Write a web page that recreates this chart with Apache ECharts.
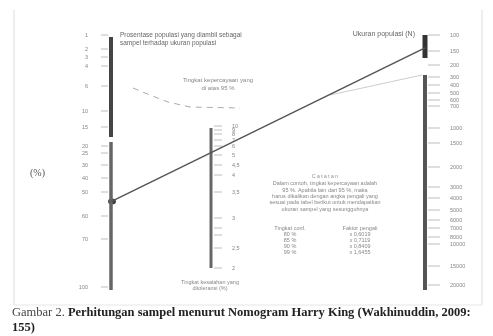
<!DOCTYPE html>
<html>
<head>
<meta charset="utf-8">
<script src="https://cdn.jsdelivr.net/npm/echarts@6/dist/echarts.min.js"></script>
<style>
  html, body {margin: 0; padding: 0; background: #fff;}
  #main {width: 493px; height: 336px;}
</style>
</head>
<body>
<div id="main"></div>
<script>
// left scale: persentase populasi yang diambil sebagai sampel
const pctLabels = ['1', '2', '3', '4', '6', '10', '15', '20', '25', '30', '40', '50', '60', '70', '100'];
const pctPos = [35, 49, 57, 66, 86, 111, 127, 146, 153, 165, 178, 192, 216, 239, 287];

// middle scale: tingkat kesalahan (%)
const errLabels = ['10', '9', '8', '7', '6', '5', '4,5', '4', '3,5', '3', '', '', '2,5', '2'];
const errPos = [126, 130, 134, 140, 146, 155, 165, 175, 192, 218, 228, 235, 248, 268];

// right scale: ukuran populasi
const popLabels = ['100', '150', '200', '300', '400', '500', '600', '700', '1000', '1500',
  '2000', '3000', '4000', '5000', '6000', '7000', '8000', '10000', '15000', '20000'];
const popPos = [35, 51, 65, 77, 85, 93, 100, 106, 128, 143, 167, 187, 198, 210, 220, 228, 237, 244, 266, 285];

// example reading drawn on the nomogram
const readPopulation = 140;
const readPercent = 54;

// confidence table
const confLevels = ['80 %', '85 %', '90 %', '99 %'];
const confFactors = ['x 0,6019', 'x 0,7119', 'x 0,8409', 'x 1,6455'];

// layout
const xLeft = 111, xMid = 211, xRight = 425;

function interp(labels, pos, v) {
  const vals = labels.map(Number);
  for (let i = 0; i < vals.length - 1; i++) {
    if (v >= vals[i] && v <= vals[i + 1]) {
      return pos[i] + (v - vals[i]) / (vals[i + 1] - vals[i]) * (pos[i + 1] - pos[i]);
    }
  }
  return pos[0];
}

function bar(x, y0, y1, width, color) {
  return {
    type: 'line', data: [[x, y0], [x, y1]], symbol: 'none', silent: true,
    lineStyle: {width: width, color: color, cap: 'butt'}
  };
}

function ticks(x, pos, labels, side, len, dist) {
  return {
    type: 'scatter', symbol: 'rect', silent: true,
    symbolSize: [len, 0.8],
    symbolOffset: [side === 'left' ? -len / 2 - 3 : len / 2 + 3, 0],
    itemStyle: {color: '#999'},
    data: pos.map((p, i) => ({value: [x, p], name: labels[i]})),
    label: {
      show: true, position: side, distance: dist,
      formatter: p => p.name,
      fontSize: 5.5, color: '#666', fontFamily: 'Liberation Sans'
    }
  };
}

const yPop = interp(popLabels, popPos, readPopulation);
const yPct = interp(pctLabels, pctPos, readPercent);

const txt = (x, y, s, opt) => ({
  type: 'text', x: x, y: y, silent: true,
  style: Object.assign({text: s, fill: '#888', fontSize: 5.5, fontFamily: 'Liberation Sans', textVerticalAlign: 'middle'}, opt || {})
});
const ln = (x1, y1, x2, y2, opt) => ({
  type: 'line', silent: true, shape: {x1, y1, x2, y2},
  style: Object.assign({stroke: '#ddd', lineWidth: 1}, opt || {})
});

const graphics = [
  ln(14, 10, 14, 305), ln(482, 10, 482, 305), ln(14, 305, 482, 305, {stroke: '#e6e6e6'}),
  txt(30, 173, '(%)', {fill: '#555', fontSize: 10, fontFamily: 'Liberation Serif'}),
  txt(120, 35, 'Prosentase populasi yang diambil sebagai', {fill: '#666', fontSize: 6.5}),
  txt(120, 43, 'sampel terhadap ukuran populasi', {fill: '#666', fontSize: 6.5}),
  txt(218, 80, 'Tingkat kepercayaan yang', {textAlign: 'center', fontSize: 6}),
  txt(218, 88, 'di atas 95 %', {textAlign: 'center', fontSize: 6}),
  txt(415, 34, 'Ukuran populasi (N)', {textAlign: 'right', fill: '#666', fontSize: 7}),
  txt(210, 282, 'Tingkat kesalahan yang', {textAlign: 'center'}),
  txt(210, 288, 'ditoleransi (%)', {textAlign: 'center'}),
  txt(325, 177, 'C a t a t a n', {textAlign: 'center', fontSize: 5}),
  txt(325, 183, 'Dalam contoh, tingkat kepercayaan adalah', {textAlign: 'center'}),
  txt(325, 190, '95 %. Apabila lain dari 95 %, maka', {textAlign: 'center'}),
  txt(325, 196, 'harus dikalikan dengan angka pengali yang', {textAlign: 'center'}),
  txt(325, 202, 'sesuai pada tabel berikut untuk mendapatkan', {textAlign: 'center'}),
  txt(325, 209, 'ukuran sampel yang sesungguhnya', {textAlign: 'center'}),
  txt(290, 228, 'Tingkat conf.', {textAlign: 'center'}),
  txt(360, 228, 'Faktor pengali', {textAlign: 'center'}),
  {
    type: 'polyline', silent: true,
    shape: {points: [[133, 88], [150, 95], [168, 102], [190, 107], [240, 108]]},
    style: {stroke: '#aaa', lineWidth: 1, fill: null, lineDash: [6, 5]}
  },
  ln(330, 95, 422, 75, {stroke: '#ccc'}),
  txt(12, 313, '', {
    rich: {
      a: {fontSize: 12.5, fontFamily: 'Liberation Serif', fill: '#444'},
      b: {fontSize: 12.5, fontFamily: 'Liberation Serif', fontWeight: 'bold', fill: '#222'}
    },
    text: '{a|Gambar 2. }{b|Perhitungan sampel menurut Nomogram Harry King (Wakhinuddin, 2009:}'
  }),
  txt(12, 328, '155)', {fontSize: 12.5, fontFamily: 'Liberation Serif', fontWeight: 'bold', fill: '#222'})
];
confLevels.forEach((c, i) => {
  graphics.push(txt(290, 234 + i * 6, c, {textAlign: 'center'}));
  graphics.push(txt(360, 234 + i * 6, confFactors[i], {textAlign: 'center'}));
});

const chart = echarts.init(document.getElementById('main'));
chart.setOption({
  animation: false,
  grid: {left: 0, right: 0, top: 0, bottom: 0},
  xAxis: {type: 'value', min: 0, max: 493, show: false},
  yAxis: {type: 'value', min: 0, max: 336, inverse: true, show: false},
  graphic: graphics,
  series: [
    bar(xLeft, 37, 137, 4, '#444'),
    bar(xLeft, 142, 290, 3.5, '#666'),
    bar(xMid, 128, 268, 3, '#666'),
    bar(xRight, 35, 58, 5, '#333'),
    bar(xRight, 75, 290, 4, '#555'),
    ticks(xLeft, pctPos, pctLabels, 'left', 7, 13),
    ticks(xMid, errPos, errLabels, 'right', 8, 10),
    ticks(xRight, popPos, popLabels, 'right', 12, 10),
    {
      type: 'line', symbol: 'none', silent: true,
      data: [[xRight, yPop], [xLeft, yPct]],
      lineStyle: {color: '#555', width: 1.5}
    },
    {
      type: 'scatter', symbol: 'circle', symbolSize: [8, 6], silent: true,
      data: [[xLeft + 1, yPct]], itemStyle: {color: '#111'}
    }
  ]
});
</script>
</body>
</html>
